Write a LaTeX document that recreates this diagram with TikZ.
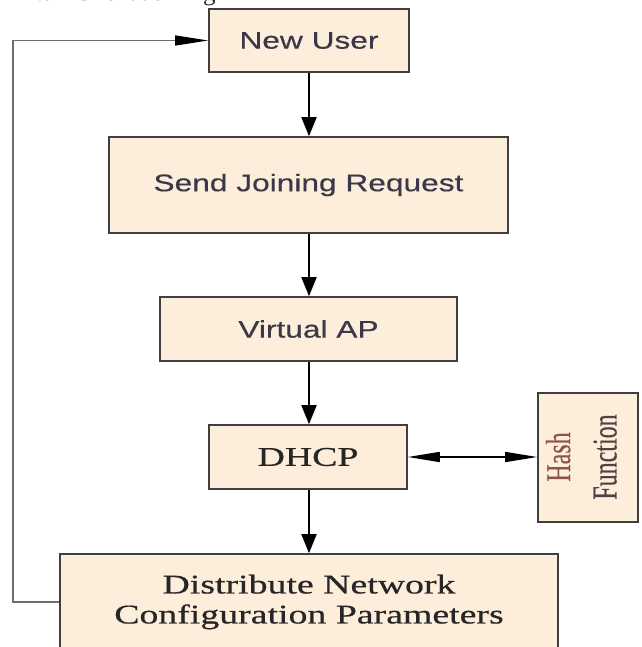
\documentclass[tikz,border=0pt]{standalone}
\usepackage{fontspec}
\setmainfont{Liberation Serif}
\newfontfamily\sansw{Liberation Sans}[FakeStretch=1.32, FakeBold=0.4]
\newfontfamily\serifw{Liberation Serif}[FakeStretch=1.4, FakeBold=0.6]
\newfontfamily\serifr{Liberation Serif}[FakeBold=0.4]
\usetikzlibrary{arrows.meta}
\definecolor{boxfill}{HTML}{FDEEDC}
\definecolor{boxline}{HTML}{3F3F3F}
\definecolor{sanstext}{HTML}{3B3848}
\definecolor{seriftext}{HTML}{262626}
\definecolor{hashred}{HTML}{8C5446}
\definecolor{hashdark}{HTML}{4F4242}
\definecolor{fbline}{HTML}{6E6E6E}
\tikzset{
  flowbox/.style={draw=boxline, fill=boxfill, line width=1.6pt, inner sep=0pt},
  sanslbl/.style={font=\sansw\fontsize{24}{28}\selectfont, text=sanstext},
  seriflbl/.style={font=\serifw\fontsize{27}{30}\selectfont, text=seriftext, align=center},
  varrow/.style={-{Triangle[length=19pt,width=15pt]}, line width=1.8pt, draw=black},
  harrow/.style={{Triangle[length=32pt,width=10pt]}-{Triangle[length=32pt,width=10pt]}, line width=1.5pt, draw=black},
  fbarrow/.style={-{Triangle[length=33pt,width=10pt,color=black]}, line width=1.2pt, draw=fbline}
}
\begin{document}
\begin{tikzpicture}[x=1pt,y=-1pt]
\clip (0,0) rectangle (641,647);
\useasboundingbox (0,0) rectangle (641,647);

\node[anchor=base west, font=\fontsize{25}{30}\selectfont, text=seriftext] (title) at (30,1) {v.\hspace{24pt}Client Joining};

\node[flowbox, sanslbl, minimum width=200pt, minimum height=63pt] (newuser) at (309,40.5) {New User};
\node[flowbox, sanslbl, minimum width=399pt, minimum height=96pt] (send) at (308.5,185) {Send Joining Request};
\node[flowbox, sanslbl, minimum width=297pt, minimum height=64pt] (vap) at (308.5,329) {Virtual AP};
\node[flowbox, seriflbl, minimum width=198pt, minimum height=64pt] (dhcp) at (308,457) {DHCP};
\node[flowbox, minimum width=100pt, minimum height=129pt] (hash) at (588,457.5) {};
\node[rotate=90, inner sep=0pt] (hashtxt) at (584,457) {\scalebox{1}[1.45]{\serifr\fontsize{24}{32}\selectfont\begin{tabular}{@{}c@{}}\color{hashred}Hash\\ \color{hashdark}Function\end{tabular}}};
\node[flowbox, seriflbl, minimum width=498pt, minimum height=96pt] (dist) at (309,602) {Distribute Network\\Configuration Parameters};

\coordinate (fbbot) at (13,602);
\coordinate (fbtop) at (13,40.5);

\draw[varrow] (newuser.south) -- (newuser.south |- send.north);
\draw[varrow] (send.south -| newuser.south) -- (newuser.south |- vap.north);
\draw[varrow] (vap.south -| newuser.south) -- (newuser.south |- dhcp.north);
\draw[varrow] (dhcp.south -| newuser.south) -- (newuser.south |- dist.north);
\draw[harrow] (dhcp.east) -- (dhcp.east -| hash.west);
\draw[fbarrow] (dist.west) -- (fbbot) -- (fbtop) -- (newuser.west);
\end{tikzpicture}
\end{document}
